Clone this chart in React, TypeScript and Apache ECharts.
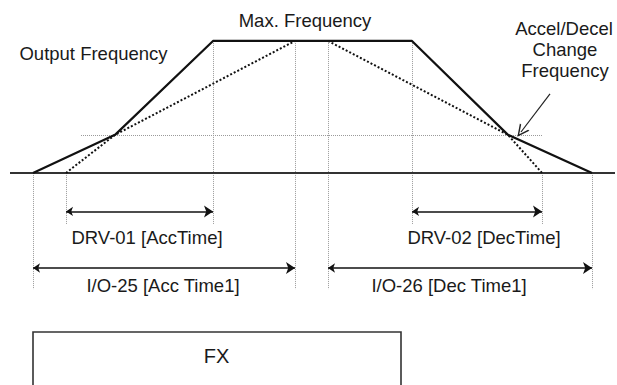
import React, { useEffect, useRef } from "react";
import * as echarts from "echarts";

// ---- data (time units, frequency units) ----
const profileTime = [0, 8.2, 18, 37.9, 47.5, 55.9];
const profileFreq = [0, 17.3, 60, 60, 17.3, 0];
const accLinearTime = [3.3, 8.2, 26.2];
const accLinearFreq = [0, 17.3, 60];
const decLinearTime = [29.5, 47.5, 50.9];
const decLinearFreq = [60, 17.3, 0];
const baselineTime = [-2.3, 58.2];
const changeFreq = 17.3;
const changeGuideTime = [4.8, 50.9];

const guideTime = [0, 3.3, 18, 26.2, 29.5, 37.9, 50.9, 55.9];
const guideTop = [0, 0, 60, 60, 60, 60, 0, 0];
const guideBottom = [-52.8, -23.2, -23.2, -52.8, -52.8, -23.2, -23.2, -52.8];

const spanLabels = ["DRV-01 [AccTime]", "I/O-25 [Acc Time1]", "DRV-02 [DecTime]", "I/O-26 [Dec Time1]"];
const spanStart = [3.3, 0, 37.9, 29.5];
const spanEnd = [18, 26.2, 50.9, 55.9];
const spanLevel = [-17.5, -43.2, -17.5, -43.2];

const calloutFrom = [51.7, 35.9];
const calloutTo = [48.8, 18.6];

const annotationTexts = ["Output Frequency", "Max. Frequency", "Accel/Decel", "Change", "Frequency"];
const boxLabel = "FX";

// ---- layout ----
const W = 617;
const H = 385;
const FONT = "'Liberation Sans', Arial, Helvetica, sans-serif";
const TEXT_COLOR = "#1a1a1a";
const annotationPos = [
  [93.5, 53],
  [305, 20],
  [564, 28],
  [565, 49],
  [565, 70],
];
const spanLabelPos = [
  [147, 237],
  [163, 285],
  [484, 237],
  [449, 285],
];

const chevron = "path://M5,0 L10,10 L8.6,10 L5,2.6 L1.4,10 L0,10 Z";

export default function App() {
  const ref = useRef<HTMLDivElement>(null);

  useEffect(() => {
    if (!ref.current) return;
    const chart = echarts.init(ref.current, undefined, { renderer: "svg" });

    const zip = (xs: number[], ys: number[]) => xs.map((x, i) => [x, ys[i]]);

    const texts: any[] = annotationTexts.map((t, i) => ({
      type: "text",
      x: annotationPos[i][0],
      y: annotationPos[i][1],
      style: {
        text: t,
        fill: TEXT_COLOR,
        font: `18.5px ${FONT}`,
        textAlign: "center",
        textVerticalAlign: "middle",
      },
      z: 10,
    }));
    spanLabels.forEach((t, i) => {
      texts.push({
        type: "text",
        x: spanLabelPos[i][0],
        y: spanLabelPos[i][1],
        style: {
          text: t,
          fill: TEXT_COLOR,
          font: `18.5px ${FONT}`,
          textAlign: "center",
          textVerticalAlign: "middle",
        },
        z: 10,
      });
    });
    texts.push({
      type: "rect",
      shape: { x: 33, y: 332, width: 368, height: 100 },
      style: { fill: "#fff", stroke: "#333", lineWidth: 1.6 },
      z: 5,
    });
    texts.push({
      type: "text",
      x: 216.5,
      y: 356,
      style: {
        text: boxLabel,
        fill: TEXT_COLOR,
        font: `20px ${FONT}`,
        textAlign: "center",
        textVerticalAlign: "middle",
      },
      z: 10,
    });

    const option: any = {
      animation: false,
      backgroundColor: "#fff",
      grid: { left: 0, right: 0, top: 0, bottom: 0, containLabel: false },
      xAxis: { type: "value", min: -3.3, max: 58.4, show: false },
      yAxis: { type: "value", min: -96.4, max: 78.6, show: false },
      graphic: texts,
      series: [
        {
          type: "lines",
          coordinateSystem: "cartesian2d",
          silent: true,
          z: 1,
          lineStyle: { color: "#9a9a9a", width: 1, type: "dotted", opacity: 1 },
          symbol: ["none", "none"],
          data: guideTime.map((t, i) => ({ coords: [[t, guideTop[i]], [t, guideBottom[i]]] })),
        },
        {
          type: "lines",
          coordinateSystem: "cartesian2d",
          silent: true,
          z: 1,
          lineStyle: { color: "#9a9a9a", width: 1, type: "dotted", opacity: 1 },
          symbol: ["none", "none"],
          data: [{ coords: [[changeGuideTime[0], changeFreq], [changeGuideTime[1], changeFreq]] }],
        },
        {
          type: "line",
          z: 3,
          showSymbol: false,
          silent: true,
          lineStyle: { color: "#333", width: 2 },
          data: baselineTime.map((t) => [t, 0]),
        },
        {
          type: "line",
          z: 4,
          showSymbol: false,
          silent: true,
          lineStyle: { color: "#111", width: 2, type: "dotted" },
          data: zip(accLinearTime, accLinearFreq),
        },
        {
          type: "line",
          z: 4,
          showSymbol: false,
          silent: true,
          lineStyle: { color: "#111", width: 2, type: "dotted" },
          data: zip(decLinearTime, decLinearFreq),
        },
        {
          type: "line",
          z: 5,
          showSymbol: false,
          silent: true,
          lineStyle: { color: "#111", width: 2.2 },
          data: zip(profileTime, profileFreq),
        },
        {
          type: "lines",
          coordinateSystem: "cartesian2d",
          silent: true,
          z: 6,
          lineStyle: { color: "#111", width: 1.6, opacity: 1 },
          symbol: ["arrow", "arrow"],
          symbolSize: [7, 9],
          data: spanStart.map((s, i) => ({ coords: [[s, spanLevel[i]], [spanEnd[i], spanLevel[i]]] })),
        },
        {
          type: "lines",
          coordinateSystem: "cartesian2d",
          silent: true,
          z: 6,
          lineStyle: { color: "#222", width: 1.2, opacity: 1 },
          symbol: ["none", chevron],
          symbolSize: [11, 12],
          data: [{ coords: [calloutFrom, calloutTo] }],
        },
      ],
    };

    chart.setOption(option);
    return () => chart.dispose();
  }, []);

  return (
    <div
      ref={ref}
      style={{ position: "absolute", left: 0, top: 0, width: W, height: H, background: "#fff" }}
    />
  );
}
